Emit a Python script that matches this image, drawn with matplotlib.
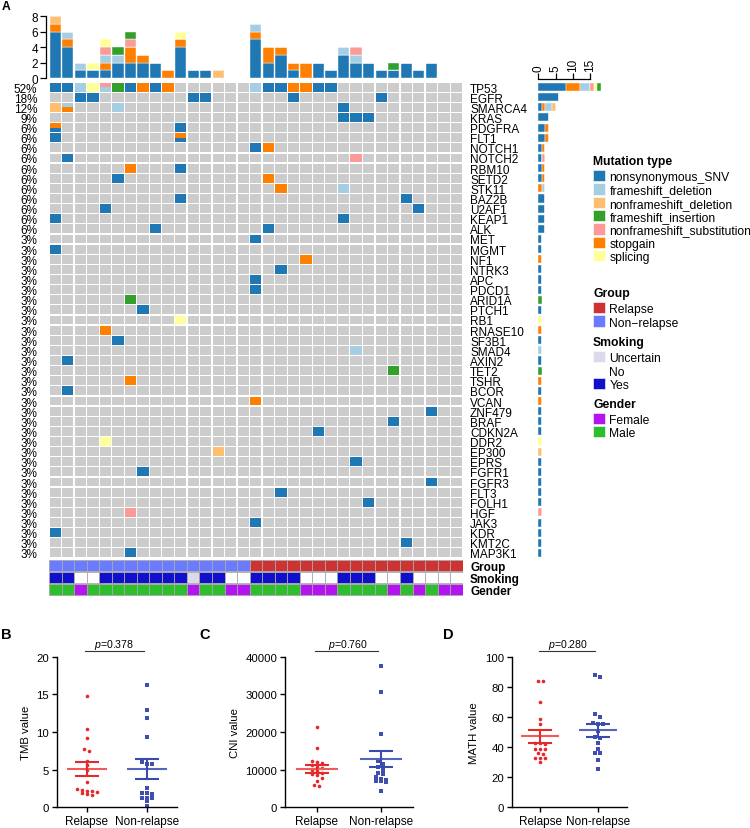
import matplotlib
matplotlib.use("Agg")
import matplotlib.pyplot as plt
from matplotlib.patches import Rectangle
import numpy as np

plt.rcParams['font.family'] = ['Liberation Sans', 'DejaVu Sans']
plt.rcParams['mathtext.fontset'] = 'custom'
plt.rcParams['mathtext.it'] = 'Liberation Sans:italic'
plt.rcParams['mathtext.rm'] = 'Liberation Sans'

W, H = 750, 829

# ---------------- data ----------------
genes = ['TP53', 'EGFR', 'SMARCA4', 'KRAS', 'PDGFRA', 'FLT1', 'NOTCH1', 'NOTCH2', 'RBM10',
         'SETD2', 'STK11', 'BAZ2B', 'U2AF1', 'KEAP1', 'ALK', 'MET', 'MGMT', 'NF1', 'NTRK3',
         'APC', 'PDCD1', 'ARID1A', 'PTCH1', 'RB1', 'RNASE10', 'SF3B1', 'SMAD4', 'AXIN2', 'TET2',
         'TSHR', 'BCOR', 'VCAN', 'ZNF479', 'BRAF', 'CDKN2A', 'DDR2', 'EP300', 'EPRS', 'FGFR1',
         'FGFR3', 'FLT3', 'FOLH1', 'HGF', 'JAK3', 'KDR', 'KMT2C', 'MAP3K1']
n_samples = 33

type_codes = {'S': 'nonsynonymous_SNV', 'FD': 'frameshift_deletion',
              'ND': 'nonframeshift_deletion', 'FI': 'frameshift_insertion',
              'NS': 'nonframeshift_substitution', 'SG': 'stopgain', 'SP': 'splicing'}
legend_types = ['nonsynonymous_SNV', 'frameshift_deletion', 'nonframeshift_deletion',
                'frameshift_insertion', 'nonframeshift_substitution', 'stopgain', 'splicing']
type_colors = ['#1F78B4', '#A6CEE3', '#FDBF6F', '#33A02C', '#FB9A99', '#FF7F00', '#FFFF99']
stack_order = ['nonsynonymous_SNV', 'stopgain', 'frameshift_deletion', 'nonframeshift_deletion',
               'nonframeshift_substitution', 'splicing', 'frameshift_insertion']

# sample:type ('+' = two alterations in one cell, top first)
mutations = {
    'TP53': '0:S 1:S 2:FD 3:SP 4:NS+FD 5:FI 6:S 7:SG 8:S 9:SG 16:FD 17:S 18:S 19:SG 20:SG 21:S 22:S',
    'EGFR': '2:S 3:S 11:S 12:S 19:S 26:S',
    'SMARCA4': '0:ND 1:FD+SG 5:FD 23:S',
    'KRAS': '23:S 24:S 25:S',
    'PDGFRA': '0:SG+S 10:S',
    'FLT1': '0:S 10:SG+S',
    'NOTCH1': '16:S 17:SG',
    'NOTCH2': '1:S 24:NS',
    'RBM10': '6:SG 10:S',
    'SETD2': '5:S 17:SG',
    'STK11': '18:SG 23:FD',
    'BAZ2B': '10:S 28:S',
    'U2AF1': '4:S 29:S',
    'KEAP1': '0:S 23:S',
    'ALK': '8:S 17:S',
    'MET': '16:S', 'MGMT': '0:S', 'NF1': '20:SG', 'NTRK3': '18:S', 'APC': '16:S',
    'PDCD1': '16:S', 'ARID1A': '6:FI', 'PTCH1': '7:S', 'RB1': '10:SP', 'RNASE10': '4:SG',
    'SF3B1': '5:S', 'SMAD4': '24:FD', 'AXIN2': '1:S', 'TET2': '27:FI', 'TSHR': '6:SG',
    'BCOR': '1:S', 'VCAN': '16:SG', 'ZNF479': '30:S', 'BRAF': '27:S', 'CDKN2A': '21:S',
    'DDR2': '4:SP', 'EP300': '13:ND', 'EPRS': '24:S', 'FGFR1': '7:S', 'FGFR3': '30:S',
    'FLT3': '18:S', 'FOLH1': '25:S', 'HGF': '6:NS', 'JAK3': '16:S', 'KDR': '0:S',
    'KMT2C': '28:S', 'MAP3K1': '6:S',
}

group = ['Non-relapse'] * 16 + ['Relapse'] * 17
smoking = ['Yes', 'Yes', 'No', 'No', 'Yes', 'Yes', 'Yes', 'Yes', 'Yes', 'Yes', 'Yes', 'Uncertain',
           'Yes', 'Yes', 'No', 'No', 'Yes', 'Yes', 'Yes', 'Yes', 'No', 'No', 'No', 'Yes', 'Yes',
           'Yes', 'No', 'No', 'Yes', 'No', 'No', 'No', 'No']
gender = ['Male', 'Male', 'Female', 'Male', 'Male', 'Male', 'Male', 'Male', 'Male', 'Male', 'Male',
          'Female', 'Male', 'Male', 'Female', 'Female', 'Male', 'Male', 'Male', 'Male', 'Female',
          'Female', 'Female', 'Male', 'Male', 'Male', 'Male', 'Female', 'Male', 'Female', 'Male',
          'Female', 'Female']

group_colors = {'Relapse': '#CD3333', 'Non-relapse': '#6B7BFF'}
smoking_colors = {'Uncertain': '#DADAEB', 'No': '#FFFFFF', 'Yes': '#1010CC'}
gender_colors = {'Female': '#B414F2', 'Male': '#2DBE2D'}

# panel B-D values
tmb_relapse = [14.8, 10.4, 9.2, 7.8, 7.5, 6.2, 5.6, 5.0, 3.4, 2.4, 2.3, 2.2, 2.1, 2.0, 1.9, 1.7, 1.6]
tmb_nonrelapse = [16.3, 12.9, 11.9, 9.4, 6.0, 5.8, 5.8, 2.6, 1.9, 1.9, 1.8, 1.3, 1.3, 1.3, 0.8, 0.2]
tmb_mean = [5.1, 5.1]
tmb_sem = [0.95, 1.33]

cni_relapse = [21200, 15800, 12200, 12000, 11800, 11200, 10800, 10500, 10000, 9600, 9200,
               8800, 8500, 7900, 7100, 5800, 5600]
cni_nonrelapse = [37400, 30700, 19600, 12200, 11500, 10600, 9800, 9200, 8800, 8000, 7500,
                  7200, 7000, 6900, 6800, 4400]
cni_mean = [10100, 12800]
cni_sem = [1100, 2200]

math_relapse = [84, 84, 69.6, 58.4, 55.6, 43, 42.4, 41.8, 38.9, 38.9, 38.9, 35.8, 35.1, 32.9,
                32.9, 32.9, 30.2]
math_nonrelapse = [88, 86.7, 61.8, 60, 56.2, 55.6, 55, 50.7, 46.7, 46, 42.4, 38.9, 35.8, 35.8,
                   31.3, 25.6]
math_mean = [47.1, 51.1]
math_sem = [4.1, 4.4]

categories = ['Relapse', 'Non-relapse']

# ---------------- derived matrices ----------------
color_of = dict(zip(legend_types, type_colors))
cells = {}  # (gene_idx, sample) -> list of types (top first)
for gi, g in enumerate(genes):
    for tok in mutations[g].split():
        s, t = tok.split(':')
        cells[(gi, int(s))] = [type_codes[c] for c in t.split('+')]

col_counts = {t: np.zeros(n_samples) for t in legend_types}
gene_counts = {t: np.zeros(len(genes)) for t in legend_types}
mutated = np.zeros(len(genes))
for (gi, s), ts in cells.items():
    mutated[gi] += 1
    for t in ts:
        col_counts[t][s] += 1
        gene_counts[t][gi] += 1

# ---------------- figure ----------------
fig = plt.figure(figsize=(W / 100, H / 100), dpi=100)


def add_ax(x0, y0, x1, y1):
    return fig.add_axes([x0 / W, 1 - y1 / H, (x1 - x0) / W, (y1 - y0) / H])


GX0, GX1 = 49, 462.7
GY0, GY1 = 83, 559
FS = 8.5

# top bar chart
ax_top = add_ax(GX0, 17, GX1, 79)
xs = np.arange(n_samples) + 0.5
bottom = np.zeros(n_samples)
for t in stack_order:
    ax_top.bar(xs, col_counts[t], bottom=bottom, width=0.9, color=color_of[t],
               edgecolor='white', linewidth=0.3)
    bottom += col_counts[t]
ax_top.set_xlim(0, n_samples)
ax_top.set_ylim(0, 8)
for sp in ['top', 'right', 'bottom']:
    ax_top.spines[sp].set_visible(False)
ax_top.spines['left'].set_position(('outward', 2.5))
ax_top.spines['left'].set_bounds(0, 8)
ax_top.spines['left'].set_linewidth(0.9)
ax_top.set_xticks([])
ax_top.set_yticks([0, 2, 4, 6, 8])
ax_top.tick_params(axis='y', length=4, width=0.9, pad=1.5, labelsize=FS)
ax_top.patch.set_alpha(0)

# oncoprint grid
ax_g = add_ax(GX0, GY0, GX1, GY1)
ax_g.set_xlim(0, n_samples)
ax_g.set_ylim(len(genes), 0)
ax_g.axis('off')
cw, ch = 0.9, 0.88
for gi in range(len(genes)):
    for s in range(n_samples):
        x0, y0 = s + (1 - cw) / 2, gi + (1 - ch) / 2
        ts = cells.get((gi, s))
        if ts is None:
            ax_g.add_patch(Rectangle((x0, y0), cw, ch, facecolor='#CCCCCC', linewidth=0))
        else:
            n = len(ts)
            for k, t in enumerate(ts):
                ax_g.add_patch(Rectangle((x0, y0 + k * ch / n), cw, ch / n,
                                         facecolor=color_of[t], linewidth=0))
for gi, g in enumerate(genes):
    pct = int(round(100 * mutated[gi] / n_samples))
    ax_g.annotate(f'{pct}%', xy=(0, gi + 0.5), xytext=(-8.6, 0), textcoords='offset points',
                  ha='right', va='center_baseline', fontsize=FS)
    ax_g.annotate(g, xy=(n_samples, gi + 0.5), xytext=(5.3, 0), textcoords='offset points',
                  ha='left', va='center_baseline', fontsize=FS)

# annotation tracks
ax_a = add_ax(GX0, 560.5, GX1, 597)
ax_a.set_xlim(0, n_samples)
ax_a.set_ylim(3, 0)
ax_a.axis('off')
tracks = [('Group', group, group_colors), ('Smoking', smoking, smoking_colors),
          ('Gender', gender, gender_colors)]
for r, (name, vals, cmap) in enumerate(tracks):
    for s, v in enumerate(vals):
        ax_a.add_patch(Rectangle((s, r + 0.02), 1, 0.9, facecolor=cmap[v],
                                 edgecolor='#A8A8A8', linewidth=0.6))
    ax_a.annotate(name, xy=(n_samples, r + 0.47), xytext=(5.3, 0), textcoords='offset points',
                  ha='left', va='center_baseline', fontsize=FS, fontweight='bold')

# right bar chart
ax_r = add_ax(538.3, GY0, 600.7, GY1)
ys = np.arange(len(genes)) + 0.5
left = np.zeros(len(genes))
for t in stack_order:
    ax_r.barh(ys, gene_counts[t], left=left, height=0.8, color=color_of[t],
              edgecolor='white', linewidth=0.3)
    left += gene_counts[t]
ax_r.set_ylim(len(genes), 0)
ax_r.set_xlim(0, 18)
for sp in ['bottom', 'right', 'left']:
    ax_r.spines[sp].set_visible(False)
ax_r.spines['top'].set_position(('outward', 2.5))
ax_r.spines['top'].set_bounds(0, 15)
ax_r.spines['top'].set_linewidth(0.9)
ax_r.xaxis.tick_top()
ax_r.set_xticks([0, 5, 10, 15])
ax_r.set_yticks([])
ax_r.tick_params(axis='x', length=4, width=0.9, pad=1.5, labelsize=FS, labelrotation=90)
ax_r.patch.set_alpha(0)

# legend (pixel-space layout axes)
ax_l = add_ax(0, 0, W, H)
ax_l.set_xlim(0, W)
ax_l.set_ylim(H, 0)
ax_l.axis('off')
ax_l.set_zorder(-1)
LX = 593
legend_blocks = [
    ('Mutation type', 160, 176.7, 13.33, list(zip(legend_types, type_colors))),
    ('Group', 292.3, 308.3, 13.7, [(k, group_colors[k]) for k in ['Relapse', 'Non-relapse']]),
    ('Smoking', 341, 357.3, 13.7, [(k, smoking_colors[k]) for k in ['Uncertain', 'No', 'Yes']]),
    ('Gender', 403, 419.3, 13.4, [(k, gender_colors[k]) for k in ['Female', 'Male']]),
]
for title, ty, y0, dy, items in legend_blocks:
    ax_l.text(LX, ty, title, ha='left', va='center_baseline', fontsize=8.7, fontweight='bold')
    for i, (lab, col) in enumerate(items):
        yc = y0 + i * dy
        ax_l.add_patch(Rectangle((LX, yc - 5.6), 12.3, 11.2, facecolor=col, edgecolor='white',
                                 linewidth=0.4))
        ax_l.text(LX + 16.5, yc, lab.replace('-', '\u2212'), ha='left', va='center_baseline',
                  fontsize=8.7)

# panel letters
fig.text(2 / W, 1 - 7 / H, 'A', fontsize=8.7, fontweight='bold', ha='left', va='center')
fig.text(1 / W, 1 - 635 / H, 'B', fontsize=10.5, fontweight='bold', ha='left', va='center')
fig.text(199 / W, 1 - 635 / H, 'C', fontsize=10.5, fontweight='bold', ha='left', va='center')
fig.text(443 / W, 1 - 635 / H, 'D', fontsize=10.5, fontweight='bold', ha='left', va='center')


def swarm_offsets(vals, ppu_y, ppu_x, step_px=5.0, thr_px=3.6):
    vals = np.asarray(vals, float)
    order = np.argsort(-vals)
    offs = np.zeros(len(vals))
    groups, cur = [], [order[0]]
    for i in order[1:]:
        if (vals[cur[0]] - vals[i]) * ppu_y < thr_px:
            cur.append(i)
        else:
            groups.append(cur)
            cur = [i]
    groups.append(cur)
    for gidx in groups:
        n = len(gidx)
        for k, i in enumerate(gidx):
            offs[i] = (k - (n - 1) / 2) * step_px / ppu_x
    return offs


RED_PT, RED_LINE, RED_BAR = '#E8262B', '#F05A5A', '#E52A2A'
BLUE_PT, BLUE_LINE, BLUE_BAR = '#3F4FB0', '#5565C0', '#3A4AB0'


def dot_panel(box, rel, non, mean, sem, ymax, yticks, ylabel, ptext, ptx):
    x0, y0, x1, y1 = box
    ax = add_ax(*box)
    ax.set_xlim(-0.5, 1.5)
    ax.set_ylim(0, ymax)
    ppu_y = (y1 - y0) / ymax
    ppu_x = (x1 - x0) / 2.0
    o1 = swarm_offsets(rel, ppu_y, ppu_x)
    o2 = swarm_offsets(non, ppu_y, ppu_x)
    ax.plot(0 + o1, rel, 'o', color=RED_PT, markersize=2.6, markeredgewidth=0, clip_on=False)
    ax.plot(1 + o2, non, 's', color=BLUE_PT, markersize=2.4, markeredgewidth=0, clip_on=False)
    for i, (lc, bc) in enumerate([(RED_LINE, RED_BAR), (BLUE_LINE, BLUE_BAR)]):
        ax.plot([i - 0.33, i + 0.33], [mean[i], mean[i]], color=lc, lw=1.5, solid_capstyle='butt')
        ax.errorbar([i], [mean[i]], yerr=[sem[i]], fmt='none', ecolor=bc, elinewidth=1.5,
                    capsize=8.5, capthick=1.5)
    for sp in ['top', 'right']:
        ax.spines[sp].set_visible(False)
    for sp in ['left', 'bottom']:
        ax.spines[sp].set_linewidth(1.0)
    ax.set_xticks([0, 1])
    ax.set_xticklabels(categories, fontsize=FS)
    ax.set_yticks(yticks)
    ax.set_yticklabels([str(v) for v in yticks], fontsize=8.2)
    ax.tick_params(length=3.5, width=1.0, pad=2)
    ax.set_ylabel(ylabel, fontsize=8.2, labelpad=4)
    ax.plot([-0.03, 0.95], [ymax * 1.036] * 2, color='#333333', lw=0.8, clip_on=False)
    ax.text(ptx, ymax * 1.086, ptext, ha='center', va='center', fontsize=7.6)
    ax.patch.set_alpha(0)
    return ax


dot_panel((56.7, 657.7, 176.7, 808.3), tmb_relapse, tmb_nonrelapse, tmb_mean, tmb_sem,
          20, [0, 5, 10, 15, 20], 'TMB value', '$p$=0.378', 0.46)
dot_panel((285, 657.7, 412.7, 808.3), cni_relapse, cni_nonrelapse, cni_mean, cni_sem,
          40000, [0, 10000, 20000, 30000, 40000], 'CNI value', '$p$=0.760', 0.48)
dot_panel((511.7, 657.7, 626.7, 808.3), math_relapse, math_nonrelapse, math_mean, math_sem,
          100, [0, 20, 40, 60, 80, 100], 'MATH value', '$p$=0.280', 0.48)

fig.savefig('out.png', dpi=100)
